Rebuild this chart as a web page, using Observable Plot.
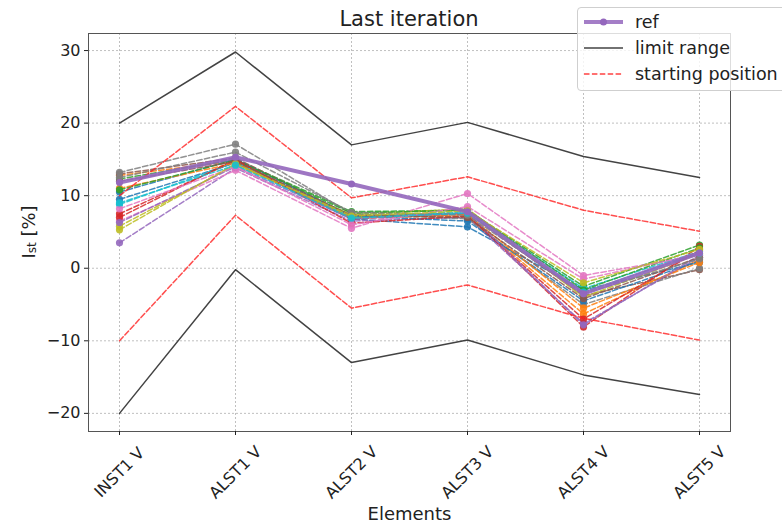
<!DOCTYPE html>
<html>
<head>
<meta charset="utf-8">
<script src="https://cdn.jsdelivr.net/npm/d3@7"></script>
<script src="https://cdn.jsdelivr.net/npm/@observablehq/plot@0.6"></script>
<style>
  html, body { margin: 0; padding: 0; background: #fff; overflow: hidden; }
  #wrap { position: relative; width: 782px; height: 527px; font-family: "DejaVu Sans", sans-serif; }
  #title { height: 32px; line-height: 38px; padding-left: 36px; text-align: center; font-size: 21px; color: #222; white-space: nowrap; }
  #legend { position: absolute; left: 577px; top: 7px; width: 240px; height: 82px; border: 1px solid #cfcfcf; border-radius: 4px; background: rgba(255,255,255,0.8); }
  #legend svg { position: absolute; left: 0; top: 0; }
</style>
</head>
<body>
<div id="wrap">
  <div id="title">Last iteration</div>
  <div id="chart"></div>
  <div id="legend"></div>
</div>
<script>
const categories = ["INST1 V", "ALST1 V", "ALST2 V", "ALST3 V", "ALST4 V", "ALST5 V"];
const yTicks = [-20, -10, 0, 10, 20, 30];

const refValues   = [11.8, 15.3, 11.6, 7.8, -3.5, 2.1];
const limitUpper  = [20.0, 29.8, 17.0, 20.1, 15.4, 12.5];
const limitLower  = [-20.0, -0.2, -13.0, -9.9, -14.7, -17.4];
const startUpper  = [10.0, 22.3, 9.7, 12.6, 8.0, 5.1];
const startLower  = [-10.0, 7.3, -5.5, -2.3, -6.9, -9.9];

const particleColors = ["#1f77b4", "#ff7f0e", "#2ca02c", "#d62728", "#9467bd",
                        "#8c564b", "#e377c2", "#7f7f7f", "#bcbd22", "#17becf"];
const particles = [
  [9.5, 14.5, 6.8, 5.7, -3.0, 0.8],
  [12.8, 14.8, 7.0, 7.2, -6.3, 1.2],
  [12.3, 15.0, 7.8, 8.0, -2.5, 3.2],
  [7.5, 14.8, 6.8, 7.5, -8.1, 3.0],
  [3.5, 13.8, 6.5, 7.0, -7.6, 1.5],
  [13.0, 15.2, 7.2, 7.6, -3.8, -0.2],
  [6.5, 13.5, 5.5, 10.3, -1.0, 1.8],
  [13.2, 17.1, 7.5, 6.8, -5.0, 0.0],
  [5.8, 14.2, 7.4, 8.2, -4.0, 2.0],
  [8.8, 14.6, 7.0, 7.8, -2.8, 2.3],
  [10.5, 15.0, 7.2, 6.5, -4.5, 1.0],
  [11.0, 14.5, 6.9, 7.4, -5.5, 0.8],
  [10.8, 14.9, 7.6, 8.0, -3.0, 2.8],
  [7.0, 15.0, 6.2, 7.2, -7.0, 2.5],
  [6.3, 14.0, 6.8, 7.6, -7.8, 1.8],
  [12.0, 14.7, 7.3, 7.0, -4.2, 1.5],
  [8.2, 14.0, 6.0, 8.5, -1.5, 2.0],
  [12.5, 16.0, 7.7, 7.3, -3.5, 1.3],
  [5.3, 14.4, 7.2, 7.9, -2.0, 2.6],
  [9.0, 14.2, 6.9, 7.6, -3.3, 2.1]
];

const rows = vals => vals.map((v, i) => ({cat: categories[i], v}));

const marks = [
  Plot.gridY(yTicks, {stroke: "#b0b0b0", strokeOpacity: 1, strokeWidth: 0.8, strokeDasharray: "2,2"}),
  Plot.gridX(categories, {stroke: "#b0b0b0", strokeOpacity: 1, strokeWidth: 0.8, strokeDasharray: "2,2"})
];

particles.forEach((p, k) => {
  const c = particleColors[k % 10];
  marks.push(Plot.line(rows(p), {x: "cat", y: "v", stroke: c, strokeWidth: 1.5, strokeDasharray: "5.5,2.4", strokeOpacity: 0.85}));
  marks.push(Plot.dot(rows(p), {x: "cat", y: "v", fill: c, r: 3.6, fillOpacity: 0.9}));
});

marks.push(
  Plot.line(rows(limitUpper), {x: "cat", y: "v", stroke: "#222", strokeWidth: 1.5, strokeOpacity: 0.85}),
  Plot.line(rows(limitLower), {x: "cat", y: "v", stroke: "#222", strokeWidth: 1.5, strokeOpacity: 0.85}),
  Plot.line(rows(startUpper), {x: "cat", y: "v", stroke: "#ff2020", strokeWidth: 1.5, strokeDasharray: "5.5,2.4", strokeOpacity: 0.8}),
  Plot.line(rows(startLower), {x: "cat", y: "v", stroke: "#ff2020", strokeWidth: 1.5, strokeDasharray: "5.5,2.4", strokeOpacity: 0.8}),
  Plot.line(rows(refValues), {x: "cat", y: "v", stroke: "#9467bd", strokeWidth: 4, strokeOpacity: 0.9}),
  Plot.dot(rows(refValues), {x: "cat", y: "v", fill: "#9467bd", r: 3.5}),
  Plot.frame({stroke: "#555", strokeWidth: 1}),
  Plot.axisY({ticks: yTicks, tickSize: 4, tickPadding: 4, fontSize: 16, label: null}),
  Plot.axisX({ticks: categories, tickSize: 4, tickFormat: () => "", fontSize: 18,
              label: "Elements", labelAnchor: "center", labelArrow: "none", labelOffset: 88}),
  Plot.text(categories, {x: d => d, frameAnchor: "bottom", rotate: -45, textAnchor: "middle",
                         lineAnchor: "middle", dy: 41, fontSize: 16, fill: "#222"})
);

const chart = Plot.plot({
  width: 782,
  height: 495,
  marginTop: 1,
  marginBottom: 96,
  marginLeft: 88,
  marginRight: 52,
  style: {fontFamily: "DejaVu Sans", fontSize: "16px", color: "#222", background: "transparent"},
  x: {type: "point", domain: categories, padding: 0.25},
  y: {domain: [-22.5, 32.35]},
  marks
});
document.getElementById("chart").appendChild(chart);

// y-axis label with subscript
const svg = d3.select(chart);
const plotTop = 1, plotBottom = 495 - 96;
svg.append("text")
  .attr("transform", `translate(28,${(plotTop + plotBottom) / 2}) rotate(-90)`)
  .attr("text-anchor", "middle")
  .attr("dominant-baseline", "central")
  .attr("font-size", 18)
  .attr("fill", "#222")
  .html('I<tspan font-size="12" dy="4">st</tspan><tspan dy="-4"> [%]</tspan>');

// legend
const legendItems = [
  {label: "ref", stroke: "#9467bd", width: 4, dash: null, dot: true},
  {label: "limit range", stroke: "#222", width: 1.5, dash: null, dot: false},
  {label: "starting position", stroke: "#ff2020", width: 1.5, dash: "5.5,2.4", dot: false}
];
const lg = d3.select("#legend").append("svg").attr("width", 240).attr("height", 82);
legendItems.forEach((it, i) => {
  const y = 14 + i * 26;
  lg.append("line").attr("x1", 6).attr("x2", 45).attr("y1", y).attr("y2", y)
    .attr("stroke", it.stroke).attr("stroke-width", it.width)
    .attr("stroke-opacity", 0.85)
    .attr("stroke-dasharray", it.dash);
  if (it.dot) lg.append("circle").attr("cx", 25.5).attr("cy", y).attr("r", 3.5).attr("fill", it.stroke);
  lg.append("text").attr("x", 57).attr("y", y).attr("dominant-baseline", "central")
    .attr("font-family", "DejaVu Sans").attr("font-size", 17.5).attr("fill", "#222").text(it.label);
});
</script>
</body>
</html>
